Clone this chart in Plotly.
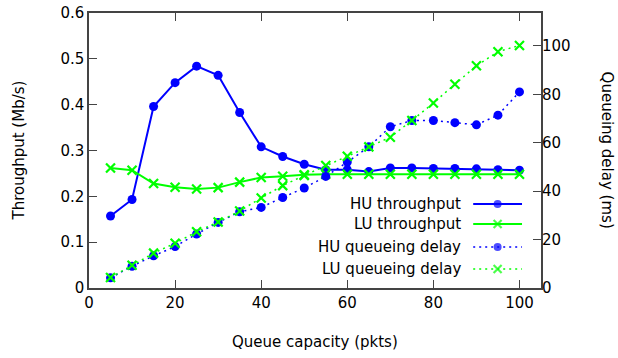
import plotly.graph_objects as go

capacity = [5, 10, 15, 20, 25, 30, 35, 40, 45, 50, 55, 60, 65, 70, 75, 80, 85, 90, 95, 100]
hu_throughput = [0.157, 0.193, 0.396, 0.448, 0.484, 0.464, 0.383, 0.308, 0.287, 0.270, 0.258, 0.258,
                 0.254, 0.262, 0.262, 0.261, 0.261, 0.260, 0.258, 0.257]
lu_throughput = [0.262, 0.257, 0.228, 0.220, 0.216, 0.219, 0.231, 0.241, 0.244, 0.247, 0.248, 0.248,
                 0.248, 0.248, 0.248, 0.248, 0.248, 0.248, 0.248, 0.248]
hu_delay = [4.2, 9.0, 13.3, 17.1, 22.3, 27.1, 31.5, 33.3, 37.4, 41.3, 46.1, 52.0,
            58.3, 66.6, 69.2, 69.2, 68.3, 67.4, 71.4, 81.0]
lu_delay = [4.3, 9.4, 14.4, 18.5, 23.2, 27.3, 31.8, 37.2, 42.3, 46.5, 50.6, 54.4,
            58.3, 62.3, 69.2, 76.4, 84.2, 91.8, 97.6, 100.2]

x_ticks = [0, 20, 40, 60, 80, 100]
y_ticks = [0, 0.1, 0.2, 0.3, 0.4, 0.5, 0.6]
y_tick_text = ["0", "0.1", "0.2", "0.3", "0.4", "0.5", "0.6"]
y2_ticks = [0, 20, 40, 60, 80, 100]
legend_labels = ["HU throughput", "LU throughput", "HU queueing delay", "LU queueing delay"]

BLUE = "#0000ff"
GREEN = "#00ff00"
FONT = "DejaVu Sans"
FS = 15
DOT = "2px,4px"
MS = 9

fig = go.Figure()

fig.add_trace(go.Scatter(x=capacity, y=hu_delay, yaxis="y2", mode="lines+markers",
                         line=dict(color=BLUE, width=1.5, dash=DOT),
                         marker=dict(symbol="circle", size=MS, color=BLUE), showlegend=False))
fig.add_trace(go.Scatter(x=capacity, y=lu_delay, yaxis="y2", mode="lines+markers",
                         line=dict(color=GREEN, width=1.5, dash=DOT),
                         marker=dict(symbol="x-thin-open", size=MS, color=GREEN,
                                     line=dict(color=GREEN, width=2.2)), showlegend=False))
fig.add_trace(go.Scatter(x=capacity, y=hu_throughput, mode="lines+markers",
                         line=dict(color=BLUE, width=2),
                         marker=dict(symbol="circle", size=MS, color=BLUE), showlegend=False))
fig.add_trace(go.Scatter(x=capacity, y=lu_throughput, mode="lines+markers",
                         line=dict(color=GREEN, width=2),
                         marker=dict(symbol="x-thin-open", size=MS, color=GREEN,
                                     line=dict(color=GREEN, width=2.2)), showlegend=False))

# custom gnuplot-style legend (text right, sample on the right)
rows = [0.3055, 0.2327, 0.149, 0.069]
styles = [
    (BLUE, "solid", 2, "circle"),
    (GREEN, "solid", 2, "x-thin-open"),
    (BLUE, DOT, 1.5, "circle"),
    (GREEN, DOT, 1.5, "x-thin-open"),
]
for label, ry, (col, dash, w, sym) in zip(legend_labels, rows, styles):
    fig.add_trace(go.Scatter(x=[0.85, 0.904, 0.958], y=[ry, ry, ry], xaxis="x3", yaxis="y3",
                             mode="lines+markers",
                             line=dict(color=col, width=w, dash=dash),
                             marker=dict(symbol=sym, size=[0, MS - 1, 0], color=col,
                                         line=dict(color=col, width=2.2 if "x" in sym else 0)),
                             showlegend=False, hoverinfo="skip"))
    fig.add_annotation(x=0.827, y=ry, xref="paper", yref="paper", text=label,
                       showarrow=False, xanchor="right", yanchor="middle",
                       font=dict(family=FONT, size=FS, color="black"))

axis_common = dict(showgrid=False, zeroline=False, ticks="inside", ticklen=8,
                   tickcolor="#444444", linecolor="#444444", linewidth=1.5, automargin=False,
                   tickfont=dict(family=FONT, size=FS, color="black"))

fig.update_layout(
    width=618, height=358,
    margin=dict(l=89, r=77, t=13, b=70, autoexpand=False),
    paper_bgcolor="white", plot_bgcolor="white",
    xaxis=dict(range=[0, 105], tickvals=x_ticks, mirror="ticks", showline=True,
               **axis_common),
    yaxis=dict(range=[0, 0.6], tickvals=y_ticks, ticktext=y_tick_text, showline=True,
               mirror=True, **axis_common),
    yaxis2=dict(range=[0, 113.6], tickvals=y2_ticks, overlaying="y", side="right",
                showline=False, **axis_common),
    xaxis3=dict(range=[0, 1], overlaying="x", visible=False),
    yaxis3=dict(range=[0, 1], overlaying="y", visible=False),
)

fig.add_annotation(x=0.5, y=-0.195, xref="paper", yref="paper", text="Queue capacity (pkts)",
                   showarrow=False, xanchor="center", yanchor="middle",
                   font=dict(family=FONT, size=FS, color="black"))
fig.add_annotation(x=-0.157, y=0.5, xref="paper", yref="paper", text="Throughput (Mb/s)",
                   showarrow=False, textangle=-90, xanchor="center", yanchor="middle",
                   font=dict(family=FONT, size=FS, color="black"))
fig.add_annotation(x=1.148, y=0.5, xref="paper", yref="paper", text="Queueing delay (ms)",
                   showarrow=False, textangle=90, xanchor="center", yanchor="middle",
                   font=dict(family=FONT, size=FS, color="black"))

fig.write_html("out.html", config={"displayModeBar": False},
               post_script="document.body.style.margin='0';")
